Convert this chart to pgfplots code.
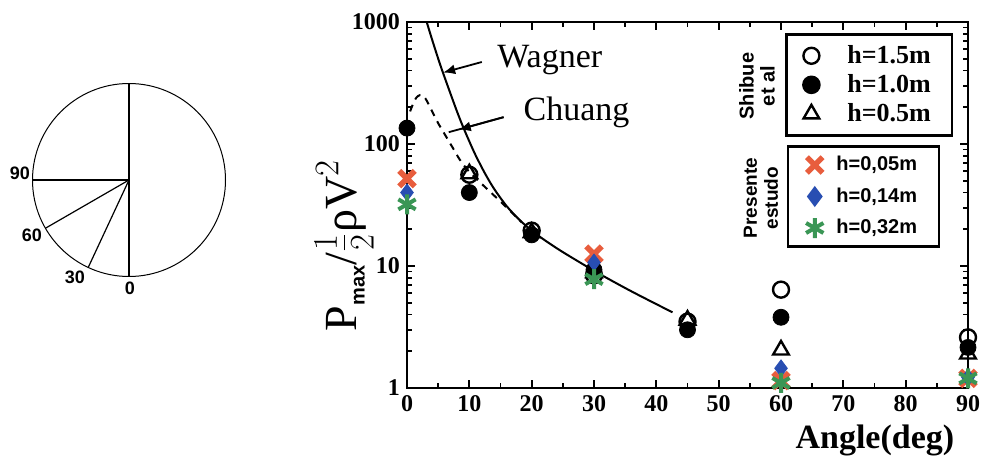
\documentclass[border=0pt]{standalone}
\usepackage{pgfplots}
\pgfplotsset{compat=1.18}
\usepackage{fontspec}
\setmainfont{Liberation Serif}
\setsansfont{Liberation Sans}
\usetikzlibrary{arrows.meta}
\definecolor{xred}{RGB}{232,93,61}
\definecolor{dblue}{RGB}{40,78,178}
\definecolor{sgreen}{RGB}{58,150,85}

\pgfplotsset{
  shib15/.style={only marks, mark=o, mark size=4pt, black, line width=1.2pt},
  shib10/.style={only marks, mark=*, mark size=4pt, black},
  shib05/.style={only marks, mark=triangle, mark size=4.5pt, black, line width=1.2pt},
  pe05/.style={only marks, mark=x, mark size=5.5pt, xred, line width=2.8pt},
  pe14/.style={only marks, mark=diamond*, mark size=4.2pt, dblue, mark options={fill=dblue}},
  pe32/.style={only marks, mark=asterisk, mark size=5pt, sgreen, line width=2pt},
}

\begin{document}
\begin{tikzpicture}
\useasboundingbox (0pt,0pt) rectangle (492pt,230pt);

% angle sketch
\begin{scope}[x=1pt,y=1pt]
\draw[line width=0.5pt] (64.5,140) circle (48.25pt);
\draw[line width=0.7pt] (64.5,188.25) -- (64.5,91.75);
\draw[line width=0.6pt] (64.5,140) -- ++(180:48.25pt);
\draw[line width=0.6pt] (64.5,140) -- ++(210:48.25pt);
\draw[line width=0.6pt] (64.5,140) -- ++(245:48.25pt);
\begin{scope}[every node/.style={font=\sffamily\bfseries\fontsize{9}{9}\selectfont}]
\node at (10,143.5) {90};
\node at (16,112.5) {60};
\node at (37.5,91.5) {30};
\node at (65,86) {0};
\end{scope}
\end{scope}

\begin{axis}[
  at={(203.5pt,36pt)}, anchor=south west,
  scale only axis, width=280.5pt, height=183pt,
  ymode=log, xmin=0, xmax=90, ymin=1, ymax=1000,
  axis line style={line width=1.2pt},
  tick style={black, line width=0.9pt},
  tick align=inside,
  major tick length=4pt, minor tick length=2.5pt,
  xtick={0,10,...,90}, xticklabels={0,10,20,30,40,50,60,70,80,90},
  minor xtick={5,15,...,85},
  ytick={1,10,100,1000}, yticklabels={1,10,100,1000},
  minor ytick={2,3,4,5,6,7,8,9,20,30,40,50,60,70,80,90,200,300,400,500,600,700,800,900},
  ticklabel style={font=\bfseries\fontsize{12}{12}\selectfont},
  xlabel={Angle(deg)},
  xlabel style={at={(axis description cs:0.834,-0.142)}, anchor=center,
    font=\bfseries\fontsize{17}{17}\selectfont},
  ylabel={P\raisebox{-4pt}{\sffamily\bfseries\fontsize{10}{10}\selectfont max}/$\frac{1}{2}$ρV$^{2}$},
  ylabel style={at={(axis description cs:-0.112,0.39)}, anchor=center, rotate=0,
    font=\fontsize{23}{23}\selectfont},
  legend style={at={(0.674,0.970)}, anchor=north west, draw=black, line width=1.3pt,
    font=\bfseries\fontsize{13}{13}\selectfont, inner xsep=8.5pt, inner ysep=3.5pt,
    row sep=0pt, legend cell align=left,
    /tikz/every odd column/.append style={column sep=12pt}},
]
% tick marks drawn on the frame
\pgfplotsinvokeforeach{10,20,...,80}{
  \draw[line width=0.9pt] (axis cs:#1,1) -- ++(0pt,4pt);
  \draw[line width=0.9pt] (axis cs:#1,1000) -- ++(0pt,-4pt);
}
\pgfplotsinvokeforeach{5,15,...,85}{
  \draw[line width=0.8pt] (axis cs:#1,1) -- ++(0pt,2.5pt);
  \draw[line width=0.8pt] (axis cs:#1,1000) -- ++(0pt,-2.5pt);
}
\pgfplotsinvokeforeach{10,100}{
  \draw[line width=0.9pt] (axis cs:0,#1) -- ++(4pt,0pt);
  \draw[line width=0.9pt] (axis cs:90,#1) -- ++(-4pt,0pt);
}
\pgfplotsinvokeforeach{2,3,4,5,6,7,8,9,20,30,40,50,60,70,80,90,200,300,400,500,600,700,800,900}{
  \draw[line width=0.8pt] (axis cs:0,#1) -- ++(2.5pt,0pt);
  \draw[line width=0.8pt] (axis cs:90,#1) -- ++(-2.5pt,0pt);
}
% theory curves
\addplot[black, line width=1pt, smooth, forget plot] coordinates {
  (3.16,1000) (4,724) (5,501) (5.56,412) (6.5,302) (8,186) (9,138) (10,105)
  (11,81) (12.5,57.5) (14,42.7) (16,30.9) (18,24) (20,19.5) (22,16.4)
  (25,13.0) (30.4,8.9) (36,6.2) (42.6,4.17)
};
\addplot[black, line width=1pt, dash pattern=on 3.5pt off 3pt, smooth, forget plot] coordinates {
  (0.5,185) (1,215) (1.5,240) (2.1,252) (2.7,245) (3.2,225) (3.7,200) (4.5,166)
  (5,148) (6.1,119) (7.4,92) (8.5,74) (10,59) (12,47) (15.2,33) (18.4,22.8)
};
% Shibue et al
\addplot[shib15] coordinates {(10,56) (20,19.5) (30,8.4) (45,3.5) (60,6.4) (90,2.6)};
\addlegendentry{h=1.5m}
\addplot[shib10] coordinates {(0,135) (10,40) (20,18) (30,9.3) (45,3.0) (60,3.8) (90,2.15)};
\addlegendentry{h=1.0m}
\addplot[shib05] coordinates {(10,57) (20,18.8) (30,8.8) (45,3.6) (60,2.05) (90,1.9)};
\addlegendentry{h=0.5m}
% Presente estudo
\addplot[pe05, forget plot] coordinates {(0,52) (30,12.5) (60,1.15) (90,1.2)};
\addplot[pe14, forget plot] coordinates {(0,40) (30,10.7) (60,1.45) (90,1.22)};
\addplot[pe32, forget plot] coordinates {(0,32) (30,7.8) (60,1.1) (90,1.2)};

% annotations
\node[font=\fontsize{17}{17}\selectfont] at (axis cs:22.9,488) {Wagner};
\node[font=\fontsize{17}{17}\selectfont] at (axis cs:27.2,183) {Chuang};
\draw[line width=0.9pt, -{Latex[length=6pt,width=5pt]}] (axis cs:12.0,470) -- (axis cs:5.8,385);
\draw[line width=0.9pt] (axis cs:15.5,166) -- (axis cs:6.7,125);
\draw[line width=0.9pt, -{Latex[length=6pt,width=5pt]}] (axis cs:15.5,166) -- (axis cs:8.3,131);
\node[rotate=90, align=center, font=\sffamily\bfseries\fontsize{10}{10.5}\selectfont]
  at (axis description cs:0.624,0.825) {Shibue\\et al};
\node[rotate=90, align=center, font=\sffamily\bfseries\fontsize{9.5}{10.5}\selectfont]
  at (axis description cs:0.631,0.519) {Presente\\estudo};
\end{axis}

\begin{axis}[
  at={(203.5pt,36pt)}, anchor=south west,
  scale only axis, width=280.5pt, height=183pt,
  hide axis, xmin=0, xmax=90, ymin=0, ymax=1,
  legend style={at={(0.677,0.664)}, anchor=north west, draw=black, line width=1.3pt,
    font=\sffamily\bfseries\fontsize{10}{10}\selectfont, inner xsep=9pt, inner ysep=3pt,
    row sep=3pt, legend cell align=left,
    /tikz/every odd column/.append style={column sep=4.5pt}},
]
\addlegendimage{pe05}
\addlegendentry{h=0,05m}
\addlegendimage{pe14}
\addlegendentry{h=0,14m}
\addlegendimage{pe32}
\addlegendentry{h=0,32m}
\end{axis}
\end{tikzpicture}
\end{document}
